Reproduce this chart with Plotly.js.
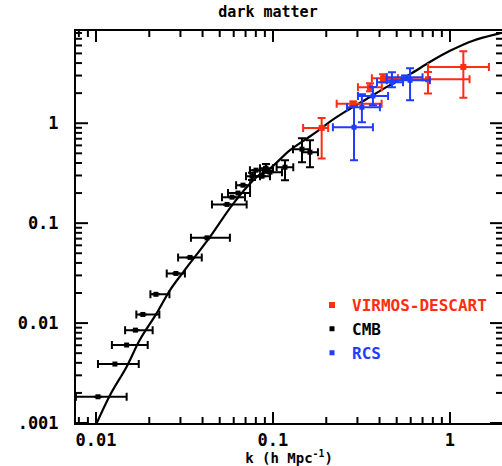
<!DOCTYPE html>
<html>
<head>
<meta charset="utf-8">
<script src="https://cdn.plot.ly/plotly-3.0.1.min.js"></script>
<style>html,body{margin:0;padding:0;background:#fff;}#chart{width:502px;height:466px;}</style>
</head>
<body>
<div id="chart"></div>
<script>
// Theory curve
var curveK = [0.0101, 0.0120, 0.0149, 0.0177, 0.0220, 0.0262, 0.0312, 0.0441, 0.0597, 0.081, 0.0962, 0.1248, 0.1584, 0.184, 0.21, 0.26, 0.338, 0.448, 0.595, 0.77, 1.0, 1.35, 1.92, 2.0];
var curveP = [0.001, 0.0019, 0.00366, 0.0068, 0.0125, 0.0214, 0.0326, 0.073, 0.157, 0.29, 0.352, 0.537, 0.72, 0.87, 1.04, 1.33, 1.75, 2.35, 3.1, 4.1, 5.3, 6.7, 7.95, 8.1];

// CMB
var cmbK   = [0.01026, 0.01279, 0.0149, 0.0167, 0.0184, 0.0218, 0.0283, 0.0340, 0.0424, 0.0550, 0.0587, 0.0634, 0.0677, 0.0761, 0.0802, 0.0867, 0.0913, 0.0961, 0.1169, 0.1458, 0.1618];
var cmbKLo = [0.0077, 0.01026, 0.0123, 0.0146, 0.0169, 0.0203, 0.0251, 0.0291, 0.0344, 0.0452, 0.0515, 0.0557, 0.0619, 0.0704, 0.0741, 0.0791, 0.0845, 0.0878, 0.1049, 0.1297, 0.146];
var cmbKHi = [0.0149, 0.01744, 0.0196, 0.0209, 0.0228, 0.0260, 0.0318, 0.0396, 0.0571, 0.0710, 0.0695, 0.0742, 0.0742, 0.0845, 0.0889, 0.0962, 0.1000, 0.1124, 0.1302, 0.1618, 0.1795];
var cmbP   = [0.00183, 0.00389, 0.00603, 0.0085, 0.0122, 0.0194, 0.0314, 0.0454, 0.0713, 0.154, 0.182, 0.20, 0.24, 0.295, 0.339, 0.295, 0.355, 0.324, 0.363, 0.55, 0.513];
var cmbPLo = [0.00183, 0.00389, 0.00603, 0.0085, 0.0122, 0.0194, 0.0314, 0.0454, 0.0713, 0.154, 0.182, 0.20, 0.24, 0.27, 0.339, 0.295, 0.32, 0.324, 0.269, 0.407, 0.363];
var cmbPHi = [0.00183, 0.00389, 0.00603, 0.0085, 0.0122, 0.0194, 0.0314, 0.0454, 0.0713, 0.154, 0.182, 0.20, 0.24, 0.32, 0.339, 0.295, 0.39, 0.324, 0.427, 0.708, 0.676];

// VIRMOS-DESCART
var virK   = [0.1884, 0.284, 0.353, 0.419, 0.751, 1.19];
var virKLo = [0.148, 0.229, 0.302, 0.362, 0.47, 0.752];
var virKHi = [0.205, 0.411, 0.412, 0.508, 1.29, 1.66];
var virP   = [0.898, 1.57, 2.29, 2.82, 2.75, 3.66];
var virPLo = [0.443, 1.50, 2.09, 2.57, 1.98, 1.80];
var virPHi = [1.13, 1.65, 2.51, 3.10, 3.26, 5.25];

// RCS
var rcsK   = [0.287, 0.318, 0.367, 0.47, 0.595, 0.557];
var rcsKLo = [0.218, 0.262, 0.302, 0.387, 0.44, 0.44];
var rcsKHi = [0.367, 0.402, 0.447, 0.543, 0.77, 0.70];
var rcsP   = [0.912, 1.445, 1.875, 2.57, 2.69, 2.88];
var rcsPLo = [0.427, 1.02, 1.51, 2.29, 1.70, 2.75];
var rcsPHi = [1.48, 1.95, 2.31, 3.24, 3.55, 3.00];

var xTickVals = [0.01, 0.1, 1];
var xTickText = ['0.01', '0.1', '1'];
var yTickVals = [0.001, 0.01, 0.1, 1];
var yTickText = ['.001', '0.01', '0.1', '1'];
var minorDigits = [2, 3, 4, 5, 6, 7, 8, 9];
var xDecades = [0.001, 0.01, 0.1, 1];
var yDecades = [0.001, 0.01, 0.1, 1];

var XR = [-2.113, 0.294], YR = [-3, 0.923];
var RED = '#ff2d12', BLUE = '#1f3cff', BLACK = '#000000';
var MONO = 'DejaVu Sans Mono';

function inRange(v, r) { var l = Math.log10(v); return l > r[0] && l < r[1]; }
function minorVals(decades, r) {
  var out = [];
  decades.forEach(function (d) { minorDigits.forEach(function (m) { if (inRange(m * d, r)) out.push(m * d); }); });
  return out;
}
function diff(a, b) { return a.map(function (v, i) { return Math.max(0, v - b[i]); }); }

function pts(name, color, k, kLo, kHi, p, pLo, pHi, size, rank) {
  return {
    type: 'scatter', mode: 'markers', name: name, x: k, y: p, legendrank: rank,
    marker: { color: color, symbol: 'square', size: size },
    error_x: { type: 'data', symmetric: false, array: diff(kHi, k), arrayminus: diff(k, kLo), color: color, thickness: 2, width: 4 },
    error_y: { type: 'data', symmetric: false, array: diff(pHi, p), arrayminus: diff(p, pLo), color: color, thickness: 2, width: 4 }
  };
}

// Tick marks on all four sides, placed through the axes' own log scales
function xTickShapes(vals, len) {
  var s = [];
  vals.forEach(function (v) {
    s.push({ type: 'line', xref: 'x', yref: 'paper', ysizemode: 'pixel', yanchor: 0, x0: v, x1: v, y0: 0, y1: len, line: { color: '#000', width: 2 } });
    s.push({ type: 'line', xref: 'x', yref: 'paper', ysizemode: 'pixel', yanchor: 1, x0: v, x1: v, y0: 0, y1: -len, line: { color: '#000', width: 2 } });
  });
  return s;
}
function yTickShapes(vals, len) {
  var s = [];
  vals.forEach(function (v) {
    s.push({ type: 'line', xref: 'paper', yref: 'y', xsizemode: 'pixel', xanchor: 0, y0: v, y1: v, x0: 0, x1: len, line: { color: '#000', width: 2 } });
    s.push({ type: 'line', xref: 'paper', yref: 'y', xsizemode: 'pixel', xanchor: 1, y0: v, y1: v, x0: 0, x1: -len, line: { color: '#000', width: 2 } });
  });
  return s;
}

var shapes = [].concat(
  xTickShapes(xTickVals, 11), xTickShapes(minorVals(xDecades, XR), 6),
  yTickShapes(yTickVals, 12), yTickShapes(minorVals(yDecades, YR), 6)
);

var data = [
  pts('<span style="color:' + BLACK + '">CMB</span>', BLACK, cmbK, cmbKLo, cmbKHi, cmbP, cmbPLo, cmbPHi, 5, 2),
  { type: 'scatter', mode: 'lines', x: curveK, y: curveP, showlegend: false,
    line: { color: '#000', width: 2.2, shape: 'spline' } },
  pts('<span style="color:' + RED + '">VIRMOS-DESCART</span>', RED, virK, virKLo, virKHi, virP, virPLo, virPHi, 6, 1),
  pts('<span style="color:' + BLUE + '">RCS</span>', BLUE, rcsK, rcsKLo, rcsKHi, rcsP, rcsPLo, rcsPHi, 5, 3)
];

function axisCommon() {
  return {
    type: 'log', showgrid: false, zeroline: false, showline: true, linecolor: '#000', linewidth: 2,
    mirror: true, ticks: '', tickfont: { family: MONO, size: 17, color: '#000', weight: 'bold' }
  };
}

var layout = {
  width: 502, height: 466,
  margin: { l: 76, r: 0, t: 31, b: 43 },
  paper_bgcolor: '#fff', plot_bgcolor: '#fff',
  showlegend: true,
  shapes: shapes,
  title: { text: 'dark matter', xref: 'container', x: 268 / 502, xanchor: 'center', yref: 'container', y: 1 - 12 / 466, yanchor: 'middle',
           font: { family: MONO, size: 15, color: '#000', weight: 'bold' } },
  xaxis: Object.assign(axisCommon(), {
    range: XR, tickmode: 'array', tickvals: xTickVals, ticktext: xTickText, ticklabelstandoff: 1,
    title: { text: 'k (h Mpc<sup>-1</sup>)', standoff: 0, font: { family: MONO, size: 14, color: '#000', weight: 'bold' } }
  }),
  yaxis: Object.assign(axisCommon(), {
    range: YR, tickmode: 'array', tickvals: yTickVals, ticktext: yTickText, ticklabelstandoff: 12
  }),
  legend: { x: 0.554, y: 0.344, xanchor: 'left', yanchor: 'top', bgcolor: 'rgba(0,0,0,0)', borderwidth: 0,
            font: { family: MONO, size: 16, color: '#000', weight: 'bold' }, itemwidth: 30, traceorder: 'normal', tracegroupgap: 0 }
};

Plotly.newPlot('chart', data, layout, { displayModeBar: false, staticPlot: true });
</script>
</body>
</html>
